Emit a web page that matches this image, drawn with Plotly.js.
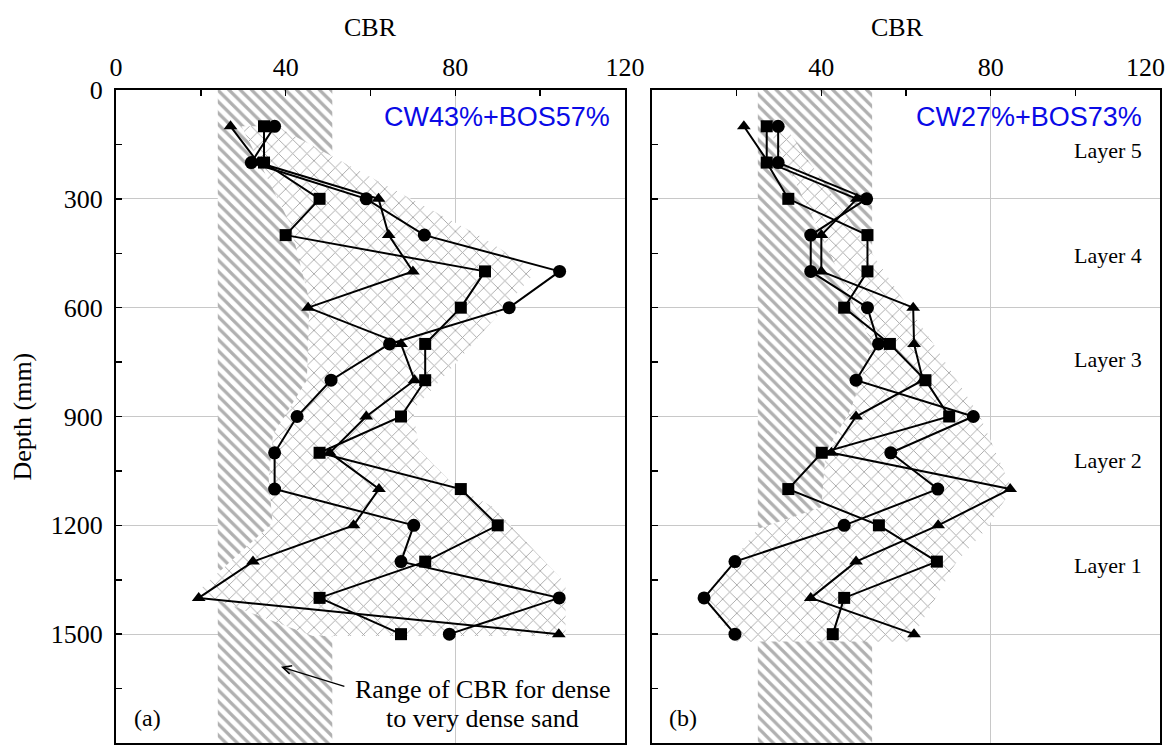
<!DOCTYPE html>
<html>
<head>
<meta charset="utf-8">
<script src="https://cdn.plot.ly/plotly-3.0.1.min.js"></script>
<style>html,body{margin:0;padding:0;background:#fff;}#chart{width:1172px;height:756px;}</style>
</head>
<body>
<div id="chart"></div>
<script>
// ---------- data ----------
const depth = [100,200,300,400,500,600,700,800,900,1000,1100,1200,1300,1400,1500];

// Panel (a) CW43%+BOS57%
const a_circle   = [37.4,31.9,59.0,72.7,104.6,92.7,64.5,50.7,42.7,37.4,37.4,70.2,67.2,104.5,78.6];
const a_square   = [34.9,34.9,48.0,40.0,87.0,81.3,72.9,72.9,67.2,48.0,81.3,90.0,72.9,48.0,67.2];
const a_triangle = [27.0,33.5,61.9,64.3,70.0,45.3,67.2,70.4,59.0,50.4,62.0,56.0,32.3,19.5,104.4];

// Panel (b) CW27%+BOS73%
const b_circle   = [29.8,29.8,50.7,37.5,37.5,50.9,53.5,48.2,75.9,56.4,67.5,45.4,19.6,12.3,19.6];
const b_square   = [27.1,27.1,32.2,50.9,50.9,45.4,56.2,64.6,70.2,40.1,32.2,53.6,67.3,45.4,42.7];
const b_triangle = [21.7,27.5,48.4,40.0,40.0,61.7,61.9,64.0,48.2,42.4,84.6,67.6,48.2,37.5,61.9];

// Range of CBR for dense to very dense sand (band)
const bandA_x = [24, 51, 51, 24];
const bandB_x = [25, 52, 52, 25];
const band_depth = [0, 0, 1800, 1800];

// Envelope (cross-hatched) regions
const envA_x = [29.6,37.8,86,99,79.4,70,71.5,80,89,106,106,46.4,19,36.9,36,37,45,45.6,41,29.6];
const envA_d = [100,100,404,500,763,882,992,1093,1150,1360,1505,1505,1385,1194,1070,950,800,580,367,100];
const envB_x = [27,31,66.5,77.5,85,79,72,67,61,20,12,25,40,41,47,52,40,27];
const envB_d = [92,92,700,900,1100,1210,1300,1400,1520,1520,1400,1210,1150,1000,880,700,400,92];

const xTicksA = [0,40,80,120];
const xLabelsA = ['0','40','80','120'];
const xTicksB = [40,80,120];
const xLabelsB = ['40','80',''];
const lastLabelB = '120';
const yTicks = [0,300,600,900,1200,1500,1800];
const labelA = 'CW43%+BOS57%';
const labelB = 'CW27%+BOS73%';
const layerNames = ['Layer 5','Layer 4','Layer 3','Layer 2','Layer 1'];
const layerDepth = [168,455,742,1022,1310];

// ---------- styling ----------
const serif = 'Liberation Serif, Times New Roman, serif';
const sans = 'Liberation Sans, Arial, sans-serif';

function band(xs, xa, ya){
  return {x: xs, y: band_depth, xaxis: xa, yaxis: ya, mode: 'lines', fill: 'toself',
    line: {width: 0, color: 'rgba(0,0,0,0)'}, fillcolor: 'white',
    fillpattern: {shape: '\\', size: 8, solidity: 0.4, fgcolor: '#b0b0b0', bgcolor: 'white'},
    hoverinfo: 'skip', showlegend: false};
}
function env(xs, ds, xa, ya){
  return {x: xs, y: ds, xaxis: xa, yaxis: ya, mode: 'lines', fill: 'toself',
    line: {width: 0, color: 'rgba(0,0,0,0)'}, fillcolor: 'white',
    fillpattern: {shape: 'x', size: 10, solidity: 0.17, fgcolor: '#a4a4a4', bgcolor: 'white'},
    hoverinfo: 'skip', showlegend: false};
}
function series(xs, sym, size, xa, ya){
  return {x: xs, y: depth, xaxis: xa, yaxis: ya, mode: 'lines+markers',
    line: {color: 'black', width: 2},
    marker: {symbol: sym, size: size, color: 'black'}, showlegend: false};
}

const traces = [
  band(bandA_x, 'x', 'y'), env(envA_x, envA_d, 'x', 'y'),
  series(a_square, 'square', 12, 'x', 'y'),
  series(a_triangle, 'triangle-up', 12, 'x', 'y'),
  series(a_circle, 'circle', 13, 'x', 'y'),
  band(bandB_x, 'x2', 'y2'), env(envB_x, envB_d, 'x2', 'y2'),
  series(b_square, 'square', 12, 'x2', 'y2'),
  series(b_triangle, 'triangle-up', 12, 'x2', 'y2'),
  series(b_circle, 'circle', 13, 'x2', 'y2')
];

function xaxis(domain, vals, labels, anchor){
  return {domain: domain, anchor: anchor, range: [0,120], side: 'top', tickvals: vals, ticktext: labels,
    ticks: 'inside', ticklen: 6, tickwidth: 1.5, tickcolor: 'black',
    minor: {dtick: 20, tick0: 0, ticks: 'inside', ticklen: 6, tickwidth: 1.5, tickcolor: 'black', showgrid: false},
    showgrid: true, gridcolor: '#c8c8c8', gridwidth: 1, zeroline: false,
    showline: true, mirror: true, linecolor: 'black', linewidth: 2,
    tickfont: {family: serif, size: 26, color: 'black'}, ticklabelstandoff: 2,
    ticklabeloverflow: 'allow', fixedrange: true};
}
function yaxis(anchor, labels){
  return {anchor: anchor, range: [1800,0], tickvals: yTicks, ticktext: yTicks.map(String),
    ticks: 'inside', ticklen: 6, tickwidth: 1.5, tickcolor: 'black',
    minor: {dtick: 150, tick0: 0, ticks: 'inside', ticklen: 6, tickwidth: 1.5, tickcolor: 'black', showgrid: false},
    showgrid: true, gridcolor: '#c8c8c8', gridwidth: 1, zeroline: false,
    showline: true, mirror: true, linecolor: 'black', linewidth: 2, showticklabels: labels,
    tickfont: {family: serif, size: 26, color: 'black'}, ticklabelstandoff: 6, fixedrange: true};
}

const annotations = [
  {xref: 'x domain', yref: 'paper', x: 0.5, y: 1.095, text: 'CBR', showarrow: false,
   font: {family: serif, size: 26, color: 'black'}, xanchor: 'center', yanchor: 'middle'},
  {xref: 'x2 domain', yref: 'paper', x: 0.483, y: 1.095, text: 'CBR', showarrow: false,
   font: {family: serif, size: 26, color: 'black'}, xanchor: 'center', yanchor: 'middle'},
  {xref: 'x2 domain', yref: 'paper', x: 0.972, y: 1.035, text: lastLabelB, showarrow: false,
   font: {family: serif, size: 26, color: 'black'}, xanchor: 'center', yanchor: 'middle'},
  {xref: 'paper', yref: 'paper', x: -0.09, y: 0.5, text: 'Depth (mm)', textangle: -90, showarrow: false,
   font: {family: serif, size: 26, color: 'black'}, xanchor: 'center', yanchor: 'middle'},
  {xref: 'x', yref: 'y', x: 117, y: 74, text: labelA, showarrow: false, xanchor: 'right', yanchor: 'middle',
   font: {family: sans, size: 27, color: '#0a0ae6'}},
  {xref: 'x2', yref: 'y2', x: 116.2, y: 74, text: labelB, showarrow: false, xanchor: 'right', yanchor: 'middle',
   font: {family: sans, size: 27, color: '#0a0ae6'}},
  {xref: 'x', yref: 'y', x: 7.5, y: 1731, text: '(a)', showarrow: false, xanchor: 'center', yanchor: 'middle',
   font: {family: serif, size: 24, color: 'black'}},
  {xref: 'x2', yref: 'y2', x: 7.3, y: 1731, text: '(b)', showarrow: false, xanchor: 'center', yanchor: 'middle',
   font: {family: serif, size: 24, color: 'black'}},
  {xref: 'x', yref: 'y', x: 86.5, y: 1653, text: 'Range of CBR for dense', showarrow: false, xanchor: 'center', yanchor: 'middle',
   font: {family: serif, size: 26, color: 'black'}},
  {xref: 'x', yref: 'y', x: 86.5, y: 1733, text: 'to very dense sand', showarrow: false, xanchor: 'center', yanchor: 'middle',
   font: {family: serif, size: 26, color: 'black'}},
  {xref: 'x', yref: 'y', axref: 'x', ayref: 'y', x: 38.9, y: 1590, ax: 54.2, ay: 1645, text: '',
   showarrow: true, arrowhead: 5, arrowsize: 1.4, arrowwidth: 1.2, arrowcolor: 'black'}
];
layerNames.forEach((t, i) => annotations.push({xref: 'x2', yref: 'y2', x: 116.2, y: layerDepth[i], text: t,
  showarrow: false, xanchor: 'right', yanchor: 'middle', font: {family: serif, size: 22, color: 'black'}}));

const layout = {
  width: 1172, height: 756,
  margin: {l: 116, r: 12, t: 90, b: 13},
  paper_bgcolor: 'white', plot_bgcolor: 'white',
  showlegend: false,
  xaxis: xaxis([0, 0.4875], xTicksA, xLabelsA, 'y'),
  xaxis2: xaxis([0.5134, 1], xTicksB, xLabelsB, 'y2'),
  yaxis: yaxis('x', true),
  yaxis2: yaxis('x2', false),
  annotations: annotations
};

Plotly.newPlot('chart', traces, layout, {staticPlot: true, displayModeBar: false});
</script>
</body>
</html>
